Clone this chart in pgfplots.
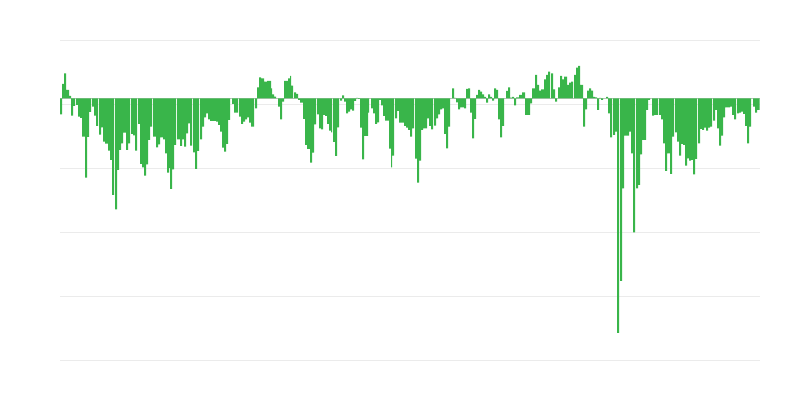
\documentclass[border=0pt]{standalone}
\usepackage{pgfplots}
\pgfplotsset{compat=1.18}
\definecolor{barg}{RGB}{57,181,74}
\definecolor{gridc}{RGB}{235,235,235}
\definecolor{zeroc}{RGB}{200,200,200}
\begin{document}
\begin{tikzpicture}[x=1pt,y=1pt]
\path[use as bounding box] (0,0) rectangle (600,300);
\begin{axis}[
  at={(45pt,29.8pt)}, anchor=south west,
  scale only axis, width=525pt, height=240pt,
  xmin=60, xmax=760, ymin=-262, ymax=58,
  axis line style={draw=none},
  major tick length=0pt,
  xtick=\empty,
  ytick={58,-6,-70,-134,-198,-262},
  yticklabels={},
  ymajorgrids,
  major grid style={gridc, line width=0.75pt},
  extra y ticks={0},
  extra y tick labels={},
  extra y tick style={grid=major, major grid style={zeroc, line width=0.6pt}},
  clip=false,
]
\addplot[ybar interval, fill=barg, draw=none] coordinates {
(60,-16) (62,14.3) (64,25) (66,8.3) (69,2.3) (71,-17.4) (73,-7.7) (75,0) (76,-6.7) (78,-18.4)
(80,-19.7) (82,-38.4) (85,-79.4) (87,-38.7) (89,-13.7) (91,0) (92,-8.4) (94,-17.4) (96,-27.7) (98,0)
(99,-36.4) (101,-29) (103,-43.4) (105,-45.4) (108,-52.4) (110,-61.7) (112,-96.7) (114,0) (115,-111) (117,-71.7)
(119,-51.7) (121,-45) (123,-34.4) (126,-51.7) (128,-45) (130,0) (131,-35.7) (133,-37) (135,-52.4) (137,0)
(138,-25.7) (140,-65.7) (142,-69) (144,-77.4) (146,-66) (148,-41.7) (150,-28.4) (152,0) (153,-38.4) (156,-49)
(158,-46) (160,-39) (163,-41) (165,-55) (167,-74.4) (169,-69.7) (170,-90.7) (172,-71) (174,-46.7) (176,0)
(177,-41) (180,-47.7) (182,-41) (184,-48.4) (186,-35) (188,-25) (190,-47.4) (192,0) (193,-54) (195,-70.7)
(197,-52.7) (199,0) (200,-41) (202,-28.4) (204,-19) (206,-15) (208,-21) (210,-22.7) (216,-23.4) (218,-26.7)
(220,-33.4) (222,-49.4) (224,-53.4) (226,-45.7) (228,-21.7) (230,0) (232,-5.7) (234,-14.4) (238,0) (239,-18.4)
(241,-25.7) (243,-23.4) (245,-21) (247,-19) (249,-24.4) (251,-28.4) (254,0) (255,-10) (257,11) (259,21)
(261,20) (264,16.6) (267,17.3) (271,10) (272,4) (274,1.6) (276,0) (278,-8.4) (280,-21) (282,-3.4)
(284,17.3) (288,20) (290,22.3) (291,12.6) (293,0) (294,6) (296,4.3) (298,-1.7) (300,-4.4) (303,-20.7)
(305,-46.7) (307,-50.7) (310,-64.4) (312,-54.4) (314,-26) (316,0) (317,-16) (319,-30) (321,-31) (323,-16.7)
(325,-17.7) (327,-25.7) (329,-32.4) (331,-34) (332,0) (333,-43.7) (335,-57.7) (337,-29) (339,0) (340,-2.4)
(342,3) (344,-3.4) (346,-15) (348,-13.4) (350,-11) (352,-12.4) (354,-2.7) (356,0.5) (358,-0.5) (360,-29.4)
(362,-61) (364,-37.7) (368,-14.4) (369,0) (371,-10) (373,-15) (375,-25.7) (377,-24) (379,-1.7) (381,-7)
(383,-17.7) (385,-22.4) (389,-50.4) (391,-69) (392,-57.4) (394,0) (395,-20) (397,-12.7) (399,-24.4) (404,-27.7)
(406,-29.4) (408,-31.7) (410,-38.4) (412,-30) (414,0) (415,-60.4) (417,-84.4) (419,-62.4) (421,-31.7) (423,-30)
(427,-20) (429,-27.7) (431,-31) (433,0) (434,-27.4) (436,-20) (438,-16) (440,-11) (442,-10) (444,-35.7)
(446,-50) (448,-28.4) (450,0) (452,10) (454,0.5) (456,-4) (458,-11) (460,-9) (464,-10) (466,9.3)
(468,10) (470,-14.4) (472,-40) (474,-20.7) (476,3.3) (478,8.3) (480,6.6) (482,4) (484,1.5) (486,-4.4)
(488,4) (490,1.5) (492,-2.4) (494,10) (496,8.3) (498,-21) (500,-39) (502,-27.7) (504,0) (506,7.3)
(508,11) (510,0.7) (512,1.3) (514,-7) (516,1) (519,3.3) (522,6) (525,-16.7) (530,-5) (532,10)
(535,23.3) (537,13.3) (539,7.6) (541,9) (544,19) (546,23.3) (548,26.6) (550,0) (551,25) (553,9)
(555,-3.4) (557,0) (558,11) (560,22.3) (562,19) (564,21.6) (567,13.3) (569,15.6) (571,16.6) (573,0)
(574,23.3) (576,30.6) (578,32.3) (580,13.3) (583,-28.4) (585,-11) (587,7.6) (589,10) (591,7.6) (593,1.5)
(595,1) (597,-11.7) (599,0.3) (601,-1.5) (603,0) (606,1.5) (608,-15) (610,-39) (612,0) (613,-36.7)
(615,-33.4) (617,-234.7) (619,0) (620,-182.7) (622,-90) (624,-37.4) (629,-33.4) (631,-55) (633,-134) (635,0)
(636,-90) (638,-86.7) (640,-56) (642,-41.7) (646,-11.7) (648,-1.7) (650,0) (652,-17.4) (654,-16.7) (658,0)
(659,-16.7) (661,-21) (663,-45) (665,-72.7) (667,-55) (670,-75.7) (672,-38.4) (674,0) (675,-34) (677,-43.4)
(679,-57.4) (681,-45.7) (683,-46.7) (685,-67.4) (687,-60) (689,-62.4) (691,-61.7) (693,-76) (695,-60.7) (697,0)
(698,-45) (700,-30.7) (702,-31.7) (704,-29.4) (706,-32.4) (708,-29.4) (710,-28.4) (712,0) (713,-22.4) (715,-11.7)
(717,-30) (719,-47.4) (721,-37.4) (723,-19) (725,-9) (730,-8.4) (732,-16.7) (734,-21) (736,0) (737,-15)
(739,-14.4) (741,-13.4) (743,-15.7) (745,-27.7) (747,-45) (749,-28.4) (751,0) (753,-8.4) (755,-14.4) (757,-11.7)
(759.5,0)
};
\end{axis}
\end{tikzpicture}
\end{document}
